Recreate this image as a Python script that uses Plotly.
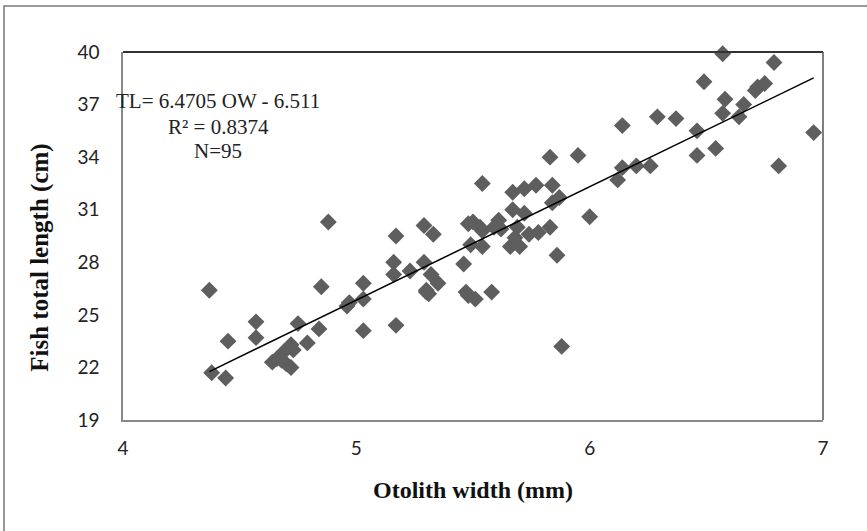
import plotly.graph_objects as go

# Otolith width (mm)
otolith_width = [
    4.37, 4.38, 4.44, 4.45, 4.57, 4.57, 4.64, 4.66, 4.67, 4.69, 4.70, 4.72, 4.72, 4.73,
    4.75, 4.79, 4.84, 4.85, 4.88, 4.96, 4.97, 5.03, 5.03, 5.03, 5.16, 5.16, 5.17, 5.17,
    5.23, 5.29, 5.29, 5.30, 5.31, 5.32, 5.33, 5.35, 5.46, 5.47, 5.48, 5.48, 5.49, 5.50,
    5.51, 5.53, 5.54, 5.54, 5.54, 5.58, 5.59, 5.61, 5.62, 5.66, 5.67, 5.67, 5.68, 5.69,
    5.70, 5.72, 5.72, 5.74, 5.77, 5.78, 5.83, 5.83, 5.84, 5.84, 5.86, 5.87, 5.88, 5.95,
    6.00, 6.12, 6.14, 6.14, 6.20, 6.26, 6.29, 6.37, 6.46, 6.46, 6.49, 6.54, 6.57, 6.57,
    6.58, 6.64, 6.66, 6.71, 6.72, 6.75, 6.79, 6.81, 6.96, 5.30, 4.68,
]
# Fish total length (cm)
total_length = [
    26.4, 21.7, 21.4, 23.5, 24.6, 23.7, 22.3, 22.5, 22.6, 22.9, 22.2, 22.0, 23.3, 23.0,
    24.5, 23.4, 24.2, 26.6, 30.3, 25.5, 25.7, 25.9, 26.8, 24.1, 28.0, 27.3, 29.5, 24.4,
    27.5, 30.1, 28.0, 26.4, 26.2, 27.3, 29.6, 26.8, 27.9, 26.3, 30.2, 26.1, 29.0, 30.3,
    25.9, 30.0, 32.5, 28.9, 29.8, 26.3, 30.0, 30.4, 29.9, 28.9, 32.0, 31.0, 29.4, 30.0,
    28.9, 32.2, 30.8, 29.6, 32.4, 29.7, 34.0, 30.0, 32.4, 31.4, 28.4, 31.7, 23.2, 34.1,
    30.6, 32.7, 33.4, 35.8, 33.5, 33.5, 36.3, 36.2, 35.5, 34.1, 38.3, 34.5, 39.9, 36.5,
    37.3, 36.3, 37.0, 37.8, 38.0, 38.2, 39.4, 33.5, 35.4, 26.3, 22.4,
]

slope = 6.4705
intercept = -6.511
x_ticks = [4, 5, 6, 7]
y_ticks = [19, 22, 25, 28, 31, 34, 37, 40]

line_x = [min(otolith_width), max(otolith_width)]
line_y = [slope * v + intercept for v in line_x]

fig = go.Figure()
fig.add_trace(go.Scatter(
    x=otolith_width, y=total_length, mode="markers",
    marker=dict(symbol="diamond", size=13, color="#5e5e5e", line=dict(width=0)),
    cliponaxis=False, showlegend=False,
))
fig.add_trace(go.Scatter(
    x=line_x, y=line_y, mode="lines",
    line=dict(color="black", width=1.5), showlegend=False,
))

tick_font = dict(family="Lato, Open Sans, sans-serif", size=19, color="#222")
serif = "Liberation Serif, Times New Roman, serif"

fig.update_xaxes(
    range=[4, 7], tickvals=x_ticks, ticktext=[str(t) for t in x_ticks],
    showgrid=False, zeroline=False, showline=True, linecolor="#888", linewidth=1.5,
    ticks="", ticklabelstandoff=10, tickfont=tick_font,
    title=dict(text="<b>Otolith width (mm)</b>", font=dict(family=serif, size=24, color="#111"),
               standoff=24),
)
fig.update_yaxes(
    range=[19, 40], tickvals=y_ticks, ticktext=[str(t) for t in y_ticks],
    showgrid=False, zeroline=False, showline=True, linecolor="#888", linewidth=1.5,
    ticks="", ticklabelstandoff=18, tickfont=tick_font,
)

shapes = [
    # top and right plot frame
    dict(type="line", xref="paper", yref="paper", x0=0, x1=1, y0=1, y1=1,
         line=dict(color="#333", width=2)),
    dict(type="line", xref="paper", yref="paper", x0=1, x1=1, y0=0, y1=1,
         line=dict(color="#555", width=1.5)),
    # outer chart frame
    dict(type="rect", xref="paper", yref="paper", x0=-0.170, x1=1.2, y0=-0.5, y1=1.125,
         line=dict(color="#777", width=1.5), layer="below"),
]

eq_font = dict(family=serif, size=21, color="#222")
annotations = [
    dict(xref="paper", yref="paper", x=0.136, y=0.866, text="TL= 6.4705 OW - 6.511",
         showarrow=False, font=eq_font, xanchor="center", yanchor="middle"),
    dict(xref="paper", yref="paper", x=0.136, y=0.797, text="R² = 0.8374",
         showarrow=False, font=eq_font, xanchor="center", yanchor="middle"),
    dict(xref="paper", yref="paper", x=0.136, y=0.731, text="N=95",
         showarrow=False, font=eq_font, xanchor="center", yanchor="middle"),
    # y-axis title
    dict(xref="paper", yref="paper", x=-0.119, y=0.44, text="<b>Fish total length (cm)</b>",
         showarrow=False, textangle=-90, xanchor="center", yanchor="middle",
         font=dict(family=serif, size=25, color="#111")),
]

fig.update_layout(
    width=867, height=531,
    margin=dict(l=123, r=44, t=52, b=111),
    plot_bgcolor="white", paper_bgcolor="white",
    shapes=shapes, annotations=annotations,
)

fig.write_html("out.html", config={"displayModeBar": False},
               post_script="document.body.style.margin='0';")
